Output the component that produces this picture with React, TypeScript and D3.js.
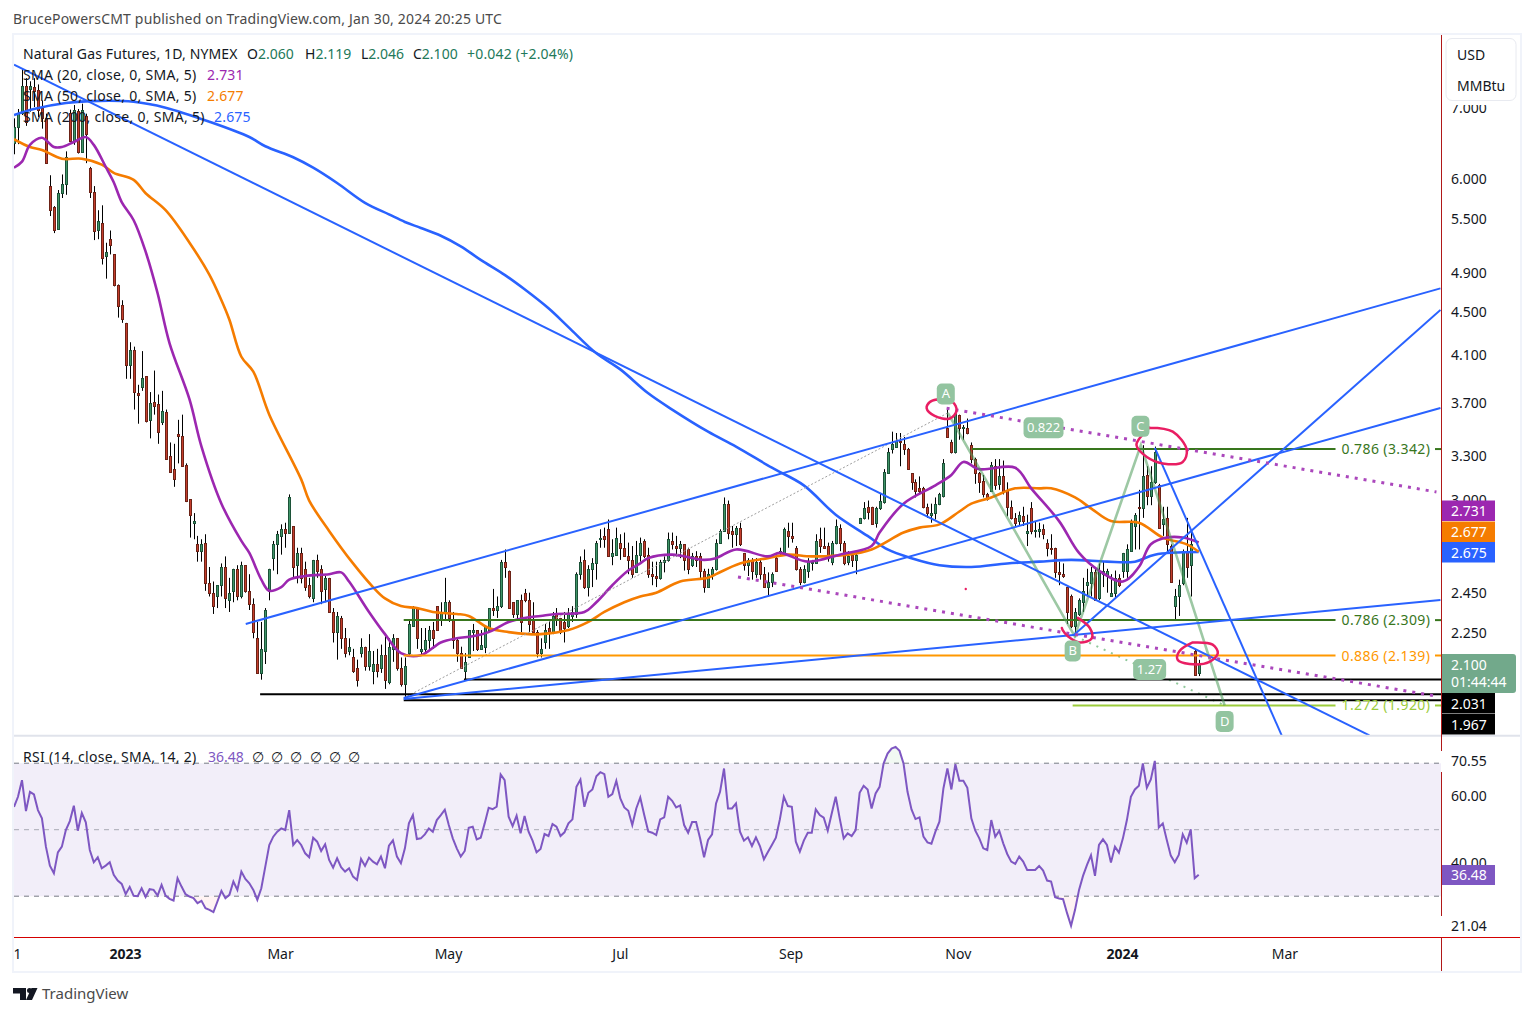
import * as d3 from 'd3';
import { useEffect, useRef } from 'react';

const WIDTH = 1534;
const HEIGHT = 1016;
const FONT = '"Noto Sans", sans-serif';

// daily candles as [open, high, low, close]
const barsNov2022 = [
  [6.48, 6.83, 6.32, 6.70], [6.71, 6.97, 6.46, 6.91], [6.91, 7.60, 6.88, 7.33], [7.33, 7.45, 6.72, 6.78],
  [7.27, 7.40, 6.93, 7.33], [7.31, 7.45, 7.00, 7.24], [7.26, 7.35, 6.85, 6.96], [6.98, 7.10, 6.68, 6.84],
  [6.84, 6.90, 6.20, 6.20], [5.90, 6.04, 5.53, 5.60], [5.64, 5.65, 5.33, 5.37], [5.38, 5.85, 5.38, 5.81],
  [5.81, 6.05, 5.75, 5.93], [5.93, 6.36, 5.79, 6.28], [6.91, 6.96, 6.50, 6.50], [6.50, 7.03, 6.45, 6.96],
  [6.94, 6.97, 6.33, 6.35], [6.35, 7.05, 6.35, 6.96], [6.87, 6.90, 6.20, 6.60], [6.13, 6.15, 5.75, 5.83],
  [5.83, 5.90, 5.25, 5.35], [5.37, 5.60, 5.26, 5.47], [5.45, 5.66, 4.98, 5.05], [5.07, 5.22, 4.83, 5.12],
  [5.26, 5.36, 5.09, 5.20], [5.09, 5.09, 4.75, 4.76], [4.76, 4.77, 4.44, 4.55], [4.56, 4.61, 4.39, 4.43],
];

const barsJanFeb2023 = [
  [4.39, 4.39, 3.89, 4.01], [4.01, 4.21, 3.89, 4.14], [4.14, 4.17, 3.64, 3.78], [3.77, 3.84, 3.53, 3.76],
  [3.82, 4.13, 3.79, 3.90], [3.91, 3.91, 3.54, 3.55], [3.56, 3.78, 3.42, 3.69], [3.70, 3.96, 3.60, 3.67],
  [3.68, 3.76, 3.38, 3.47], [3.54, 3.79, 3.52, 3.63], [3.62, 3.64, 3.27, 3.27], [3.29, 3.39, 3.18, 3.18],
  [3.20, 3.38, 3.08, 3.13], [3.45, 3.56, 3.24, 3.44], [3.44, 3.60, 3.22, 3.22], [3.23, 3.24, 2.98, 2.99],
  [3.00, 3.00, 2.76, 2.90], [2.85, 2.91, 2.75, 2.86], [2.72, 2.77, 2.62, 2.68], [2.68, 2.75, 2.62, 2.72],
  [2.73, 2.78, 2.46, 2.50], [2.50, 2.59, 2.43, 2.45], [2.45, 2.51, 2.34, 2.38], [2.43, 2.49, 2.37, 2.49],
  [2.49, 2.61, 2.43, 2.59], [2.59, 2.65, 2.37, 2.42], [2.41, 2.53, 2.35, 2.45], [2.46, 2.58, 2.40, 2.58],
  [2.58, 2.60, 2.41, 2.43], [2.43, 2.62, 2.42, 2.60], [2.60, 2.60, 2.45, 2.46], [2.46, 2.55, 2.36, 2.39],
  [2.39, 2.42, 2.22, 2.25], [2.22, 2.30, 2.06, 2.06], [2.06, 2.30, 2.03, 2.17], [2.16, 2.37, 2.10, 2.36],
];

const barsMarJun2023 = [
  [2.46, 2.58, 2.41, 2.58], [2.64, 2.74, 2.57, 2.72], [2.72, 2.80, 2.55, 2.78], [2.77, 2.84, 2.66, 2.81],
  [2.81, 2.85, 2.70, 2.79], [2.79, 3.03, 2.79, 3.01], [2.83, 2.83, 2.53, 2.59], [2.60, 2.70, 2.50, 2.67],
  [2.67, 2.70, 2.50, 2.53], [2.58, 2.62, 2.46, 2.48], [2.49, 2.53, 2.42, 2.43], [2.42, 2.63, 2.40, 2.63],
  [2.63, 2.66, 2.53, 2.57], [2.58, 2.60, 2.39, 2.46], [2.47, 2.54, 2.40, 2.53], [2.53, 2.53, 2.35, 2.35],
  [2.35, 2.37, 2.20, 2.25], [2.25, 2.35, 2.12, 2.33], [2.32, 2.33, 2.17, 2.22], [2.22, 2.27, 2.13, 2.15],
  [2.16, 2.22, 2.14, 2.18], [2.13, 2.17, 2.06, 2.07], [2.08, 2.12, 2.00, 2.03], [2.15, 2.22, 2.13, 2.18],
  [2.18, 2.18, 2.07, 2.09], [2.09, 2.24, 2.07, 2.16], [2.07, 2.16, 2.01, 2.10], [2.10, 2.17, 2.04, 2.07],
  [2.08, 2.19, 2.06, 2.14], [2.14, 2.23, 1.99, 2.03], [2.02, 2.22, 2.01, 2.18], [2.17, 2.24, 2.11, 2.22],
  [2.22, 2.22, 2.07, 2.08], [2.08, 2.13, 2.00, 2.01], [2.01, 2.13, 1.94, 2.09], [2.15, 2.31, 2.14, 2.29],
  [2.28, 2.38, 2.28, 2.37], [2.37, 2.37, 2.17, 2.22], [2.16, 2.27, 2.14, 2.17], [2.17, 2.27, 2.15, 2.21],
  [2.21, 2.28, 2.17, 2.26], [2.26, 2.30, 2.17, 2.22], [2.38, 2.38, 2.26, 2.26], [2.31, 2.40, 2.28, 2.35],
  [2.35, 2.53, 2.31, 2.40], [2.40, 2.41, 2.30, 2.32], [2.31, 2.35, 2.17, 2.21], [2.21, 2.22, 2.11, 2.15],
  [2.15, 2.18, 2.08, 2.08], [2.07, 2.15, 2.03, 2.11], [2.13, 2.26, 2.13, 2.26], [2.25, 2.29, 2.16, 2.26],
  [2.26, 2.26, 2.16, 2.17], [2.17, 2.26, 2.17, 2.19], [2.18, 2.28, 2.15, 2.28], [2.26, 2.37, 2.26, 2.37],
  [2.37, 2.47, 2.33, 2.36], [2.36, 2.43, 2.32, 2.38], [2.38, 2.63, 2.37, 2.62], [2.62, 2.69, 2.53, 2.59],
  [2.57, 2.57, 2.37, 2.37], [2.40, 2.40, 2.32, 2.34], [2.34, 2.41, 2.31, 2.41], [2.41, 2.44, 2.25, 2.30],
  [2.45, 2.47, 2.40, 2.41], [2.41, 2.45, 2.25, 2.29], [2.31, 2.40, 2.24, 2.25], [2.25, 2.26, 2.13, 2.15],
  [2.15, 2.22, 2.13, 2.17], [2.20, 2.29, 2.17, 2.26], [2.27, 2.31, 2.17, 2.25], [2.25, 2.35, 2.24, 2.33],
  [2.34, 2.37, 2.28, 2.31], [2.32, 2.32, 2.24, 2.25], [2.30, 2.35, 2.20, 2.27], [2.28, 2.37, 2.27, 2.34],
  [2.33, 2.38, 2.30, 2.35], [2.34, 2.56, 2.32, 2.55], [2.55, 2.65, 2.52, 2.62], [2.63, 2.69, 2.47, 2.48],
  [2.48, 2.60, 2.43, 2.58], [2.58, 2.64, 2.48, 2.61], [2.61, 2.74, 2.52, 2.73], [2.75, 2.81, 2.70, 2.76],
  [2.77, 2.82, 2.70, 2.75], [2.81, 2.87, 2.65, 2.65], [2.65, 2.75, 2.60, 2.67], [2.66, 2.82, 2.66, 2.76],
  [2.73, 2.78, 2.63, 2.70], [2.70, 2.79, 2.65, 2.65], [2.65, 2.73, 2.55, 2.63], [2.63, 2.71, 2.53, 2.55],
  [2.56, 2.74, 2.56, 2.66],
];

const barsJulNov2023 = [
  [2.66, 2.76, 2.62, 2.73], [2.74, 2.75, 2.64, 2.65], [2.66, 2.70, 2.53, 2.55], [2.55, 2.62, 2.49, 2.54],
  [2.54, 2.62, 2.48, 2.53], [2.53, 2.63, 2.52, 2.62], [2.62, 2.65, 2.56, 2.63], [2.63, 2.79, 2.62, 2.75],
  [2.74, 2.79, 2.69, 2.72], [2.71, 2.77, 2.65, 2.70], [2.70, 2.74, 2.64, 2.72], [2.72, 2.72, 2.57, 2.63],
  [2.69, 2.70, 2.55, 2.58], [2.60, 2.67, 2.59, 2.65], [2.65, 2.68, 2.59, 2.63], [2.65, 2.67, 2.52, 2.57],
  [2.57, 2.58, 2.45, 2.48], [2.48, 2.58, 2.48, 2.55], [2.55, 2.59, 2.52, 2.58], [2.58, 2.75, 2.57, 2.73],
  [2.73, 2.81, 2.73, 2.80], [2.80, 3.01, 2.80, 2.97], [2.97, 2.99, 2.75, 2.79], [2.80, 2.83, 2.70, 2.78],
  [2.78, 2.83, 2.71, 2.82], [2.82, 2.85, 2.71, 2.72], [2.67, 2.67, 2.57, 2.60], [2.60, 2.64, 2.54, 2.63],
  [2.63, 2.64, 2.52, 2.57], [2.55, 2.64, 2.53, 2.62], [2.62, 2.64, 2.52, 2.55], [2.55, 2.59, 2.48, 2.48],
  [2.48, 2.56, 2.43, 2.51], [2.51, 2.56, 2.48, 2.55], [2.64, 2.65, 2.57, 2.57], [2.67, 2.70, 2.65, 2.68],
  [2.67, 2.82, 2.67, 2.81], [2.80, 2.85, 2.70, 2.77], [2.77, 2.85, 2.73, 2.76], [2.70, 2.71, 2.57, 2.58],
  [2.58, 2.59, 2.49, 2.51], [2.51, 2.60, 2.50, 2.58], [2.57, 2.64, 2.53, 2.62], [2.61, 2.63, 2.57, 2.62],
  [2.61, 2.78, 2.61, 2.74], [2.75, 2.82, 2.67, 2.71], [2.71, 2.82, 2.70, 2.70], [2.71, 2.73, 2.62, 2.64],
  [2.62, 2.74, 2.60, 2.73], [2.73, 2.87, 2.72, 2.83], [2.82, 2.84, 2.68, 2.73], [2.73, 2.74, 2.60, 2.61],
  [2.62, 2.68, 2.60, 2.65], [2.66, 2.67, 2.59, 2.63], [2.63, 2.67, 2.55, 2.66], [2.85, 2.88, 2.85, 2.88],
  [2.88, 2.98, 2.87, 2.94], [2.95, 2.99, 2.87, 2.92], [2.95, 2.95, 2.84, 2.84], [2.85, 2.95, 2.82, 2.94],
  [2.94, 3.04, 2.93, 2.99], [2.98, 3.20, 2.97, 3.18], [3.17, 3.35, 3.17, 3.32], [3.34, 3.47, 3.31, 3.38],
  [3.36, 3.46, 3.35, 3.40], [3.40, 3.46, 3.22, 3.39], [3.38, 3.43, 3.30, 3.34], [3.34, 3.35, 3.20, 3.20],
  [3.17, 3.17, 3.06, 3.11], [3.11, 3.13, 3.01, 3.05], [3.07, 3.15, 3.03, 3.05], [3.07, 3.08, 2.94, 2.95],
  [2.95, 2.97, 2.88, 2.91], [2.90, 2.97, 2.85, 2.91], [2.91, 3.01, 2.87, 2.97], [2.97, 3.04, 2.96, 3.03],
  [3.02, 3.27, 3.01, 3.24], [3.50, 3.65, 3.43, 3.43], [3.39, 3.41, 3.31, 3.32], [3.32, 3.63, 3.31, 3.61],
  [3.60, 3.60, 3.41, 3.50], [3.50, 3.52, 3.41, 3.505], [3.50, 3.57, 3.45, 3.46], [3.37, 3.39, 3.24, 3.27],
  [3.27, 3.28, 3.10, 3.17], [3.17, 3.18, 3.04, 3.11], [3.12, 3.16, 3.01, 3.03], [3.03, 3.04, 2.99, 3.00],
  [3.05, 3.25, 3.05, 3.23], [3.22, 3.27, 3.06, 3.09], [3.10, 3.27, 3.06, 3.15], [3.15, 3.26, 3.03, 3.05],
  [3.05, 3.11, 2.89, 2.95], [2.95, 2.99, 2.87, 2.88], [2.88, 2.91, 2.83, 2.85], [2.86, 2.92, 2.83, 2.90],
  [2.89, 2.95, 2.83, 2.86], [2.79, 2.90, 2.71, 2.80], [2.94, 2.98, 2.78, 2.80], [2.80, 2.86, 2.76, 2.805],
  [2.80, 2.85, 2.76, 2.81],
];

const barsDec2023Jan2024 = [
  [2.81, 2.84, 2.75, 2.78], [2.73, 2.75, 2.65, 2.70], [2.70, 2.78, 2.66, 2.69], [2.70, 2.70, 2.53, 2.56],
  [2.56, 2.62, 2.49, 2.55], [2.55, 2.61, 2.53, 2.54], [2.48, 2.48, 2.29, 2.35], [2.43, 2.44, 2.27, 2.28],
  [2.28, 2.37, 2.23, 2.35], [2.34, 2.42, 2.33, 2.41], [2.40, 2.53, 2.35, 2.46], [2.49, 2.58, 2.43, 2.51],
  [2.50, 2.59, 2.43, 2.56], [2.56, 2.59, 2.41, 2.41], [2.42, 2.61, 2.41, 2.57], [2.55, 2.62, 2.48, 2.57],
  [2.54, 2.58, 2.45, 2.57], [2.43, 2.55, 2.43, 2.45], [2.45, 2.57, 2.42, 2.53], [2.53, 2.55, 2.48, 2.49],
  [2.57, 2.67, 2.53, 2.67], [2.57, 2.72, 2.53, 2.69], [2.68, 2.87, 2.68, 2.85], [2.83, 2.91, 2.69, 2.90],
  [2.95, 3.06, 2.69, 2.94], [2.94, 3.37, 2.88, 3.15], [3.16, 3.22, 2.96, 3.02], [3.02, 3.22, 2.96, 3.11],
  [3.11, 3.36, 3.10, 3.32], [3.09, 3.10, 2.82, 2.82], [2.84, 2.95, 2.77, 2.87], [2.88, 2.95, 2.67, 2.72],
  [2.71, 2.72, 2.51, 2.51], [2.38, 2.47, 2.31, 2.43], [2.43, 2.52, 2.33, 2.49], [2.50, 2.69, 2.49, 2.68],
  [2.68, 2.88, 2.53, 2.59], [2.60, 2.80, 2.43, 2.72], [2.16, 2.17, 2.05, 2.05], [2.06, 2.119, 2.046, 2.10],
];

// moving averages at these bars
const sma20Bars = [0, 2, 4, 7, 10, 12, 15, 18, 20, 23, 25, 27, 30, 33, 36, 39, 44, 47, 52, 57, 59, 62, 64, 67, 69, 73, 79, 82, 84, 89, 93, 97, 102, 107, 111, 115, 119, 124, 128, 132, 136, 143, 146, 150, 154, 157, 159, 165, 173, 176, 181, 189, 192, 199, 207, 215, 217, 223, 231, 235, 238, 242, 251, 255, 262, 267, 272, 278, 282, 285, 289, 293, 297];
const sma20Values = [6.14, 6.22, 6.45, 6.55, 6.42, 6.42, 6.49, 6.56, 6.45, 6.15, 5.95, 5.70, 5.48, 5.12, 4.68, 4.20, 3.72, 3.36, 2.97, 2.74, 2.67, 2.52, 2.46, 2.48, 2.52, 2.54, 2.55, 2.56, 2.51, 2.35, 2.24, 2.15, 2.14, 2.20, 2.22, 2.23, 2.25, 2.30, 2.32, 2.33, 2.34, 2.35, 2.40, 2.49, 2.57, 2.61, 2.64, 2.66, 2.63, 2.64, 2.69, 2.65, 2.67, 2.62, 2.66, 2.71, 2.79, 2.97, 3.09, 3.16, 3.25, 3.20, 3.21, 3.07, 2.86, 2.67, 2.57, 2.51, 2.59, 2.72, 2.76, 2.76, 2.731];

const sma50Bars = [0, 4, 7, 12, 17, 22, 25, 30, 33, 38, 44, 49, 52, 54, 57, 60, 64, 72, 74, 79, 85, 90, 93, 97, 101, 105, 111, 114, 119, 124, 129, 132, 139, 144, 148, 153, 157, 161, 167, 174, 176, 182, 189, 194, 200, 209, 215, 223, 227, 232, 237, 240, 245, 251, 257, 260, 266, 270, 275, 282, 288, 294, 297];
const sma50Values = [6.53, 6.42, 6.38, 6.26, 6.26, 6.18, 6.07, 5.98, 5.81, 5.60, 5.22, 4.87, 4.61, 4.42, 4.08, 3.95, 3.60, 3.13, 2.99, 2.80, 2.61, 2.48, 2.42, 2.38, 2.37, 2.35, 2.34, 2.33, 2.27, 2.25, 2.24, 2.24, 2.26, 2.30, 2.35, 2.40, 2.43, 2.45, 2.51, 2.53, 2.55, 2.61, 2.64, 2.66, 2.65, 2.66, 2.69, 2.79, 2.82, 2.84, 2.92, 2.97, 3.01, 3.07, 3.07, 3.07, 3.01, 2.94, 2.86, 2.85, 2.76, 2.72, 2.677];

const sma200Bars = [0, 5, 13, 19, 30, 38, 49, 59, 63, 70, 75, 81, 88, 94, 98, 102, 107, 112, 117, 123, 128, 134, 139, 146, 152, 159, 165, 174, 181, 190, 198, 206, 214, 219, 225, 232, 240, 249, 257, 265, 274, 281, 286, 297];
const sma200Values = [6.88, 6.97, 7.06, 7.09, 7.08, 6.99, 6.78, 6.56, 6.43, 6.28, 6.14, 5.94, 5.69, 5.55, 5.46, 5.39, 5.30, 5.18, 5.03, 4.87, 4.72, 4.53, 4.35, 4.11, 3.97, 3.77, 3.64, 3.47, 3.36, 3.21, 3.09, 2.90, 2.77, 2.69, 2.64, 2.60, 2.59, 2.61, 2.62, 2.63, 2.62, 2.62, 2.66, 2.675];

const rsiValues = [
  56.9, 59.9, 64.9, 55.6, 61.4, 60.6, 55.9, 53.4, 44.9, 39.2, 36.9, 43.2, 44.9, 49.9, 52.6, 57.2, 49.7, 55.0, 52.2, 43.9,
  40.2, 41.7, 38.4, 39.2, 40.2, 36.4, 34.7, 33.7, 30.6, 32.8, 30.1, 30.0, 32.4, 29.8, 32.1, 31.9, 30.2, 33.4, 30.2, 29.2,
  28.7, 35.4, 32.9, 30.6, 29.9, 29.4, 27.9, 28.6, 26.4, 25.9, 25.2, 28.4, 31.6, 29.4, 30.4, 34.4, 31.9, 37.4, 35.2, 33.9,
  31.9, 28.9, 32.4, 38.9, 45.4, 47.9, 49.4, 50.4, 49.9, 55.9, 45.4, 46.9, 45.4, 42.9, 41.7, 47.6, 46.4, 43.6, 45.6, 40.9,
  38.6, 41.4, 38.7, 37.4, 38.4, 35.9, 34.9, 41.2, 39.1, 41.6, 40.4, 39.6, 41.9, 38.4, 45.2, 46.8, 41.9, 39.9, 44.4, 51.9,
  54.4, 47.2, 47.4, 48.6, 50.4, 49.4, 52.9, 54.4, 56.0, 51.4, 47.4, 44.4, 41.9, 43.6, 50.6, 50.9, 47.1, 47.6, 51.9, 56.6,
  56.2, 56.9, 66.6,
  64.9, 53.9, 51.1, 54.2, 48.9, 54.1, 49.4, 46.7, 43.2, 44.2, 48.7, 48.1, 51.7, 50.9, 48.1, 49.2, 51.9, 53.1, 62.9, 65.1,
  56.9, 61.1, 62.1, 66.1, 67.3, 66.7, 59.9, 60.7, 64.7, 59.4, 56.7, 55.7, 51.4, 56.4, 59.7, 54.4, 49.5, 49.1, 48.4, 53.1,
  53.7, 59.9, 58.7, 56.7, 57.3, 51.4, 49.1, 52.3, 52.3, 47.4, 41.7, 46.9, 48.6, 57.9, 61.4, 68.4, 56.4, 56.4, 57.9, 49.4,
  46.7, 47.7, 45.1, 47.7, 45.1, 41.1, 43.3, 45.4, 47.6, 53.1, 59.9, 57.1, 56.9, 46.4, 43.4, 46.7, 49.1, 49.1, 56.1, 54.4,
  53.6, 49.7, 54.9, 59.9, 53.4, 47.4, 48.9, 48.1,
  49.9, 61.1, 63.2, 62.1, 56.4, 60.9, 62.9, 69.9, 72.9, 74.4, 74.9, 73.7, 69.9, 61.4, 56.1, 53.2, 53.7, 47.9, 46.2, 45.8,
  49.4, 52.4, 62.4, 68.4, 62.1, 69.7, 64.7, 64.7, 62.6, 53.4, 49.7, 47.4, 44.4, 43.9, 52.9, 47.9, 49.7, 45.9, 42.7, 40.4,
  39.7, 41.9, 40.4, 37.9, 37.9, 37.9, 39.1, 37.7, 34.7, 34.4, 29.7, 29.3, 29.1, 24.9, 21.1, 25.9, 31.9, 36.1, 39.4, 42.3,
  36.1, 45.4, 47.1, 45.4, 40.1, 44.9, 43.1, 47.4, 52.9, 59.9, 62.1, 63.2, 69.9, 62.6, 65.1, 70.7, 50.7, 51.9, 46.9, 42.2,
  40.2, 42.4, 48.6, 46.1, 50.1, 35.4, 36.48,
];

// axis ticks
const priceTicks = [7, 6, 5.5, 4.9, 4.5, 4.1, 3.7, 3.3, 3, 2.45, 2.25];
const rsiTicks = [70.55, 60, 40, 21.04];
const timeTickBars = [0.75, 27.8, 66.7, 108.8, 151.9, 194.7, 236.6, 277.8, 318.5];
const timeTickLabels = ['1', '2023', 'Mar', 'May', 'Jul', 'Sep', 'Nov', '2024', 'Mar'];

// drawings: [bar, price, bar, price]
const trendLines = [
  [0, 7.67, 339.8, 1.8],
  [58.1, 2.29, 357.6, 4.73],
  [97.7, 1.951, 357.6, 3.652],
  [97.7, 1.947, 357.6, 2.412],
  [265.7, 2.236, 357.6, 4.514],
  [286, 3.35, 317.8, 1.8],
];
const dottedPurpleLines = [
  [233.8, 3.65, 356.6, 3.046],
  [181.5, 2.535, 356.4, 1.96],
];
const abcdPoints = [[234.1, 3.613], [265.9, 2.231], [282.5, 3.371], [303.5, 1.92]];
const abcdBadges = [
  { bar: 233.6, price: 3.765, label: 'A', w: 18 },
  { bar: 265.4, price: 2.16, label: 'B', w: 16 },
  { bar: 282.4, price: 3.51, label: 'C', w: 18 },
  { bar: 303.5, price: 1.855, label: 'D', w: 18 },
  { bar: 258.1, price: 3.50, label: '0.822', w: 40 },
  { bar: 284.7, price: 2.075, label: '1.27', w: 33 },
];
const fibLevels = [
  { price: 3.342, from: 240.1, label: '0.786 (3.342)', color: '#38761d' },
  { price: 2.309, from: 97.7, label: '0.786 (2.309)', color: '#38761d' },
  { price: 2.139, from: 97.7, label: '0.886 (2.139)', color: '#ff9800' },
  { price: 1.92, from: 265.4, label: '1.272 (1.920)', color: '#9ccc3c' },
];
const FIB_END_BAR = 331.3;
const FIB_LABEL_BAR = 332.8;
const blackLevels = [
  { price: 2.031, from: 112.8 },
  { price: 1.967, from: 61.7 },
  { price: 1.942, from: 97.7 },
];
const brushStrokes = [
  [[231.3, 3.72], [235.3, 3.70], [236.3, 3.63], [234.6, 3.57], [230.8, 3.59], [228.8, 3.65], [229.6, 3.70], [231.3, 3.72]],
  [[284.7, 3.50], [290.5, 3.47], [294, 3.335], [293, 3.25], [288, 3.24], [284, 3.285], [281.4, 3.37], [282.7, 3.44], [284.7, 3.50]],
  [[266.7, 2.32], [269.7, 2.27], [270.2, 2.22], [267.2, 2.20], [264.2, 2.23], [262.9, 2.26], [262.7, 2.27]],
  [[295.5, 2.20], [300.5, 2.19], [301.8, 2.15], [299.7, 2.11], [294.7, 2.10], [291.7, 2.12], [292.2, 2.16], [295.5, 2.20]],
];
const pinkDot = [238.6, 2.47];

const smaLegend = [
  { label: 'SMA (20, close, 0, SMA, 5)', value: '2.731', color: '#9c27b0', y: 80, vx: 207 },
  { label: 'SMA (50, close, 0, SMA, 5)', value: '2.677', color: '#f57c00', y: 101, vx: 207 },
  { label: 'SMA (200, close, 0, SMA, 5)', value: '2.675', color: '#2962ff', y: 122, vx: 214 },
];
const ohlcLegend = [
  { key: 'O', value: '2.060', x: 247 },
  { key: 'H', value: '2.119', x: 305 },
  { key: 'L', value: '2.046', x: 361 },
  { key: 'C', value: '2.100', x: 413 },
];
const priceTags = [
  { text: '2.731', fill: '#9c27b0', y: 500.5 },
  { text: '2.677', fill: '#f57c00', y: 521.5 },
  { text: '2.675', fill: '#2962ff', y: 542 },
  { text: '2.031', fill: '#000000', y: 693 },
  { text: '1.967', fill: '#000000', y: 714 },
];

const candles = [...barsNov2022, ...barsJanFeb2023, ...barsMarJun2023, ...barsJulNov2023, ...barsDec2023Jan2024];

export default function App() {
  const ref = useRef<SVGSVGElement>(null);

  useEffect(() => {
    const svg = d3.select(ref.current);
    svg.selectAll('*').remove();
    svg.attr('font-family', FONT);

    const x = d3.scaleLinear().domain([0, 297]).range([14, 1198.7]);
    const y = d3.scaleLog().domain([3, 7]).range([499, 107]);
    const rsiY = d3.scaleLinear().domain([30, 70]).range([896.2, 763.2]);

    const defs = svg.append('defs');
    defs.append('clipPath').attr('id', 'main-clip').append('rect')
      .attr('x', 14).attr('y', 36).attr('width', 1427).attr('height', 699);
    defs.append('clipPath').attr('id', 'above-70').append('rect')
      .attr('x', 14).attr('y', 738).attr('width', 1427).attr('height', rsiY(70) - 738);
    defs.append('clipPath').attr('id', 'below-30').append('rect')
      .attr('x', 14).attr('y', rsiY(30)).attr('width', 1427).attr('height', 40);

    svg.append('rect').attr('width', WIDTH).attr('height', HEIGHT).attr('fill', '#ffffff');

    const main = svg.append('g').attr('clip-path', 'url(#main-clip)');

    // candles
    candles.forEach(([o, h, l, c], i) => {
      const cx = Math.round(x(i));
      const up = c >= o;
      main.append('line')
        .attr('x1', cx + 0.5).attr('x2', cx + 0.5)
        .attr('y1', y(h)).attr('y2', y(l))
        .attr('stroke', '#000000').attr('stroke-width', 1);
      const top = Math.round(y(Math.max(o, c)));
      const bottom = Math.round(y(Math.min(o, c)));
      main.append('rect')
        .attr('x', cx - 0.5).attr('y', top + 0.5)
        .attr('width', 2).attr('height', Math.max(bottom - top, 1))
        .attr('fill', up ? '#3f9467' : '#c43d2c')
        .attr('stroke', up ? '#1c5238' : '#6b2216').attr('stroke-width', 1);
    });

    // moving averages
    const smaLine = d3.line<[number, number]>()
      .x((d) => x(d[0]))
      .y((d) => y(d[1]))
      .curve(d3.curveCatmullRom);
    const drawSma = (bars: number[], values: number[], color: string) => {
      main.append('path')
        .attr('d', smaLine(bars.map((bar, i) => [bar, values[i]])))
        .attr('fill', 'none').attr('stroke', color).attr('stroke-width', 2.6);
    };
    drawSma(sma200Bars, sma200Values, '#2962ff');
    drawSma(sma50Bars, sma50Values, '#f57c00');
    drawSma(sma20Bars, sma20Values, '#9c27b0');

    const segment = (seg: number[], stroke: string, width: number, dash?: string) => main.append('line')
      .attr('x1', x(seg[0])).attr('y1', y(seg[1]))
      .attr('x2', x(seg[2])).attr('y2', y(seg[3]))
      .attr('stroke', stroke).attr('stroke-width', width)
      .attr('stroke-dasharray', dash ?? null);

    // faint dotted lines under the pattern
    segment([97.7, 1.951, 234.1, 3.613], '#9e9e9e', 1, '2 2');
    segment([265.9, 2.231, 303.5, 1.92], '#8fc79a', 2, '2 6');

    // levels
    fibLevels.forEach((level) => {
      segment([level.from, level.price, FIB_END_BAR, level.price], level.color, 2);
      main.append('line')
        .attr('x1', 1435).attr('x2', 1441)
        .attr('y1', y(level.price)).attr('y2', y(level.price))
        .attr('stroke', level.color).attr('stroke-width', 2);
    });
    blackLevels.forEach((level) => {
      segment([level.from, level.price, 400, level.price], '#000000', 2);
    });

    // abcd pattern
    main.append('path')
      .attr('d', d3.line().x((d) => x(d[0])).y((d) => y(d[1]))(abcdPoints as [number, number][]))
      .attr('fill', 'none').attr('stroke', '#4c9a5a').attr('stroke-opacity', 0.55).attr('stroke-width', 2.6);

    trendLines.forEach((seg) => segment(seg, '#2962ff', 2));
    dottedPurpleLines.forEach((seg) => segment(seg, '#ab47bc', 3, '3 6'));

    // hand drawn circles
    const brush = d3.line().x((d) => x(d[0])).y((d) => y(d[1])).curve(d3.curveCatmullRom);
    brushStrokes.forEach((points) => {
      main.append('path')
        .attr('d', brush(points as [number, number][]))
        .attr('fill', 'none').attr('stroke', '#e91e63').attr('stroke-width', 2.5).attr('stroke-linecap', 'round');
    });
    main.append('circle').attr('cx', x(pinkDot[0])).attr('cy', y(pinkDot[1])).attr('r', 1.2).attr('fill', '#e91e63');

    abcdBadges.forEach((badge) => {
      const bx = x(badge.bar);
      const by = y(badge.price);
      main.append('rect')
        .attr('x', bx - badge.w / 2).attr('y', by - 10.5)
        .attr('width', badge.w).attr('height', 21).attr('rx', 5)
        .attr('fill', '#93c4a0');
      main.append('text')
        .attr('x', bx).attr('y', by + 4.5)
        .attr('text-anchor', 'middle').attr('font-size', 13).attr('fill', '#ffffff')
        .text(badge.label);
    });

    fibLevels.forEach((level) => {
      main.append('text')
        .attr('x', x(FIB_LABEL_BAR)).attr('y', y(level.price) + 5)
        .attr('font-size', 14).attr('letter-spacing', 0.4).attr('fill', level.color)
        .text(level.label);
    });

    // rsi pane
    const rsi = svg.append('g');
    rsi.append('rect')
      .attr('x', 14).attr('y', rsiY(70)).attr('width', 1427).attr('height', rsiY(30) - rsiY(70))
      .attr('fill', '#7e57c2').attr('fill-opacity', 0.1);
    const rsiArea = (level: number) => d3.area<number>()
      .x((_d, i) => x(i))
      .y0(rsiY(level))
      .y1((d) => rsiY(d));
    rsi.append('path').attr('d', rsiArea(70)(rsiValues))
      .attr('fill', '#4caf50').attr('fill-opacity', 0.07).attr('clip-path', 'url(#above-70)');
    rsi.append('path').attr('d', rsiArea(30)(rsiValues))
      .attr('fill', '#ff5252').attr('fill-opacity', 0.07).attr('clip-path', 'url(#below-30)');
    [70, 50, 30].forEach((level) => {
      rsi.append('line')
        .attr('x1', 14).attr('x2', 1441)
        .attr('y1', rsiY(level)).attr('y2', rsiY(level))
        .attr('stroke', '#787b86').attr('stroke-opacity', level === 50 ? 0.6 : 1)
        .attr('stroke-dasharray', '5 5');
    });
    rsi.append('path')
      .attr('d', d3.line<number>().x((_d, i) => x(i)).y((d) => rsiY(d))(rsiValues))
      .attr('fill', 'none').attr('stroke', '#7e57c2').attr('stroke-width', 2);

    // frame and pane separators
    svg.append('line').attr('x1', 13).attr('x2', 1521).attr('y1', 735.8).attr('y2', 735.8)
      .attr('stroke', '#e0e3eb').attr('stroke-width', 2);
    svg.append('line').attr('x1', 14).attr('x2', 1520).attr('y1', 937.5).attr('y2', 937.5)
      .attr('stroke', '#d40000');
    svg.append('line').attr('x1', 1441.5).attr('x2', 1441.5).attr('y1', 35).attr('y2', 971)
      .attr('stroke', '#b01818');
    svg.append('rect').attr('x', 13).attr('y', 34).attr('width', 1508).attr('height', 938)
      .attr('fill', 'none').attr('stroke', '#f0f3fa').attr('stroke-width', 2);

    // white backing of the two rsi scale labels
    [751, 916].forEach((top) => {
      svg.append('rect').attr('x', 1441).attr('y', top).attr('width', 60).attr('height', 21).attr('fill', '#ffffff');
    });

    // axes
    const styleAxis = (axis: any) => {
      axis.select('.domain').remove();
      axis.selectAll('text').attr('font-family', FONT).attr('font-size', 14).attr('fill', '#131722');
    };
    svg.append('g').attr('transform', 'translate(1441,0.7)')
      .call(d3.axisRight(y).tickValues(priceTicks).tickFormat(d3.format('.3f')).tickSize(0).tickPadding(10))
      .call(styleAxis);
    svg.append('g').attr('transform', 'translate(1441,0)')
      .call(d3.axisRight(rsiY).tickValues(rsiTicks).tickFormat(d3.format('.2f')).tickSize(0).tickPadding(10))
      .call(styleAxis);
    svg.append('g').attr('transform', 'translate(0,946)')
      .call(d3.axisBottom(x).tickValues(timeTickBars)
        .tickFormat((_d, i) => timeTickLabels[i]).tickSize(0).tickPadding(3))
      .call(styleAxis)
      .call((axis: any) => axis.selectAll('text')
        .attr('font-weight', (_d: number, i: number) => (/^20/.test(timeTickLabels[i]) ? 700 : 400)));

    // price tags
    priceTags.forEach((tag) => {
      svg.append('rect').attr('x', 1442).attr('y', tag.y).attr('width', 53).attr('height', 20.5).attr('fill', tag.fill);
      svg.append('text').attr('x', 1451).attr('y', tag.y + 15.5)
        .attr('font-size', 14).attr('fill', '#ffffff').text(tag.text);
    });
    svg.append('path')
      .attr('d', 'M1442 654H1513a3 3 0 0 1 3 3V690a3 3 0 0 1 -3 3H1442Z')
      .attr('fill', '#72a98b');
    svg.append('text').attr('x', 1451).attr('y', 669.5).attr('font-size', 14).attr('fill', '#ffffff').text('2.100');
    svg.append('text').attr('x', 1451).attr('y', 687).attr('font-size', 14).attr('fill', '#ffffff').text('01:44:44');
    svg.append('rect').attr('x', 1442).attr('y', 865).attr('width', 53).attr('height', 20).attr('fill', '#7e57c2');
    svg.append('text').attr('x', 1451).attr('y', 880).attr('font-size', 14).attr('fill', '#ffffff').text('36.48');

    // unit box, its white margin cuts the top of the 7.000 tick
    svg.append('rect').attr('x', 1442).attr('y', 36).attr('width', 77).attr('height', 69).attr('fill', '#ffffff');
    svg.append('rect').attr('x', 1446).attr('y', 38.5).attr('width', 70).attr('height', 62).attr('rx', 6)
      .attr('fill', '#ffffff').attr('stroke', '#e8eaf0');
    svg.append('text').attr('x', 1457).attr('y', 60).attr('font-size', 14).attr('fill', '#131722').text('USD');
    svg.append('text').attr('x', 1457).attr('y', 91).attr('font-size', 14).attr('fill', '#131722').text('MMBtu');

    // header and legends
    svg.append('text').attr('x', 13).attr('y', 24).attr('font-size', 14).attr('letter-spacing', 0.18).attr('fill', '#4a4a4a')
      .text('BrucePowersCMT published on TradingView.com, Jan 30, 2024 20:25 UTC');
    svg.append('text').attr('x', 23).attr('y', 59).attr('font-size', 14).attr('letter-spacing', 0.13).attr('fill', '#131722')
      .text('Natural Gas Futures, 1D, NYMEX');
    ohlcLegend.forEach((item) => {
      const text = svg.append('text').attr('x', item.x).attr('y', 59).attr('font-size', 14).attr('fill', '#131722');
      text.append('tspan').text(item.key);
      text.append('tspan').attr('fill', '#22795a').text(item.value);
    });
    svg.append('text').attr('x', 467).attr('y', 59).attr('font-size', 14).attr('letter-spacing', 0.2).attr('fill', '#22795a')
      .text('+0.042 (+2.04%)');
    smaLegend.forEach((item) => {
      svg.append('text').attr('x', 23).attr('y', item.y).attr('font-size', 14).attr('letter-spacing', 0.3).attr('fill', '#131722').text(item.label);
      svg.append('text').attr('x', item.vx).attr('y', item.y).attr('font-size', 14).attr('letter-spacing', 0.2).attr('fill', item.color).text(item.value);
    });
    svg.append('text').attr('x', 23).attr('y', 762).attr('font-size', 14).attr('letter-spacing', 0.3).attr('fill', '#131722')
      .text('RSI (14, close, SMA, 14, 2)');
    svg.append('text').attr('x', 208).attr('y', 762).attr('font-size', 14).attr('fill', '#7e57c2').text('36.48');
    [258, 277, 296, 316, 335, 354].forEach((nx) => {
      svg.append('text').attr('x', nx).attr('y', 762).attr('text-anchor', 'middle')
        .attr('font-size', 14).attr('fill', '#131722').text('∅');
    });

    // footer logo
    svg.append('path')
      .attr('d', 'M13 988H26V1000H20V993.5H13ZM37.5 988L32 1000H26L31.5 988Z')
      .attr('fill', '#131722');
    svg.append('circle').attr('cx', 29.5).attr('cy', 990.5).attr('r', 2.5).attr('fill', '#131722');
    svg.append('text').attr('x', 42).attr('y', 999).attr('font-size', 15).attr('fill', '#4a4a4a').text('TradingView');
  }, []);

  return (
    <svg
      ref={ref}
      width={WIDTH}
      height={HEIGHT}
      style={{ position: 'absolute', left: 0, top: 0, display: 'block' }}
    />
  );
}
